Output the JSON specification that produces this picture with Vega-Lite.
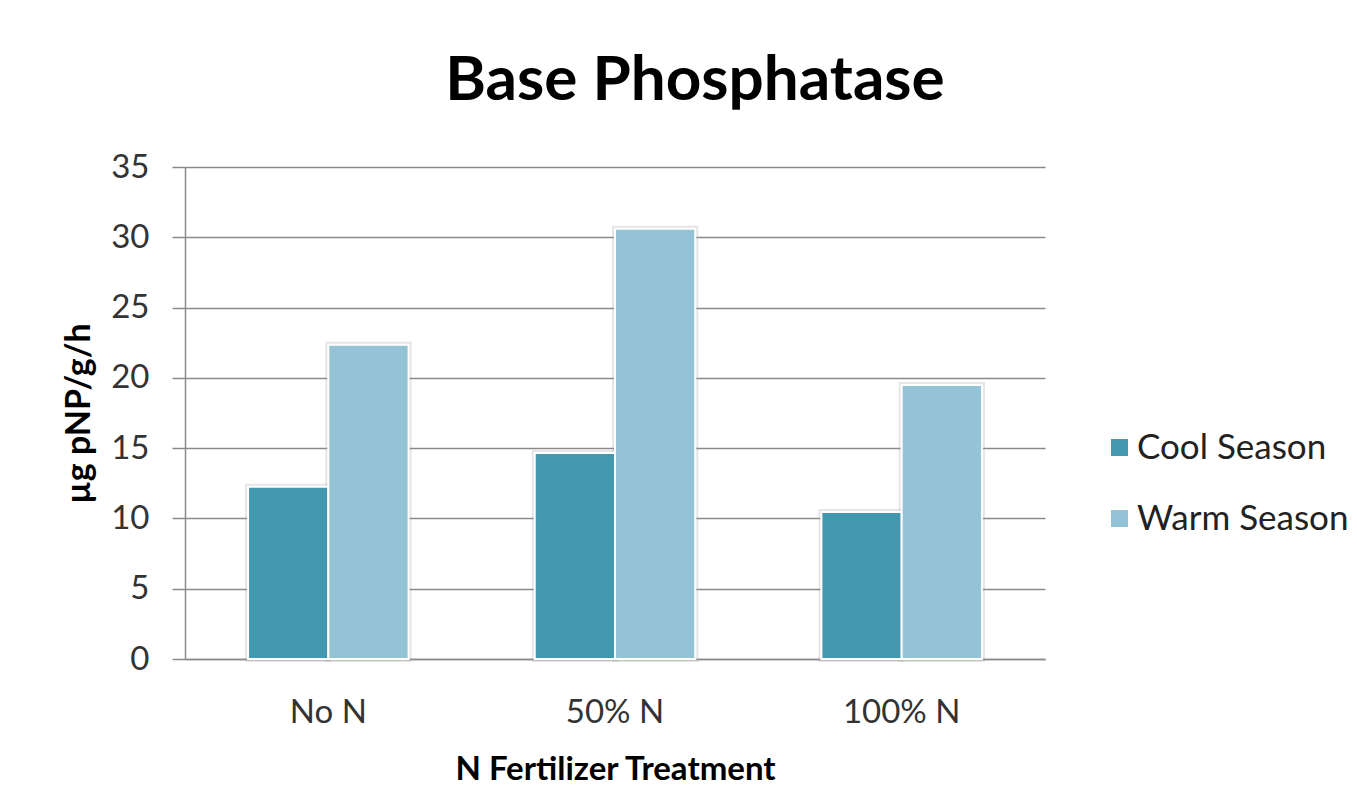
{
  "$schema": "https://vega.github.io/schema/vega-lite/v6.json",
  "width": 860,
  "height": 492,
  "autosize": {"type": "none"},
  "padding": {"left": 185, "top": 167, "right": 312, "bottom": 131},
  "background": "white",
  "title": {
    "text": "Base Phosphatase",
    "font": "Lato",
    "fontSize": 62,
    "fontWeight": "bold",
    "color": "#000000",
    "anchor": "middle",
    "frame": "group",
    "dx": 80,
    "offset": 38
  },
  "data": {
    "values": [
      {"treatment": "No N", "season": "Cool Season", "value": 12.25},
      {"treatment": "No N", "season": "Warm Season", "value": 22.35},
      {"treatment": "50% N", "season": "Cool Season", "value": 14.65},
      {"treatment": "50% N", "season": "Warm Season", "value": 30.6},
      {"treatment": "100% N", "season": "Cool Season", "value": 10.45},
      {"treatment": "100% N", "season": "Warm Season", "value": 19.5}
    ]
  },
  "config": {
    "view": {"stroke": null},
    "font": "Lato"
  },
  "encoding": {
    "x": {
      "field": "treatment",
      "type": "nominal",
      "sort": ["No N", "50% N", "100% N"],
      "scale": {"paddingInner": 0.44, "paddingOuter": 0.22},
      "axis": {
        "title": "N Fertilizer Treatment",
        "titleFont": "Lato",
        "titleFontSize": 33,
        "titleFontWeight": "bold",
        "titleColor": "#000000",
        "titlePadding": 24,
        "labelAngle": 0,
        "labelFont": "Lato",
        "labelFontSize": 33,
        "labelColor": "#333333",
        "labelPadding": 37,
        "ticks": false,
        "domain": true,
        "domainColor": "#8a8a8a",
        "domainWidth": 1.5
      }
    },
    "xOffset": {"field": "season", "type": "nominal", "sort": ["Cool Season", "Warm Season"]},
    "y": {
      "field": "value",
      "type": "quantitative",
      "scale": {"domain": [0, 35]},
      "axis": {
        "title": "µg pNP/g/h",
        "titleFont": "Lato",
        "titleFontSize": 34,
        "titleFontWeight": "bold",
        "titleColor": "#000000",
        "titlePadding": 14,
        "values": [0, 5, 10, 15, 20, 25, 30, 35],
        "labelFont": "Lato",
        "labelFontSize": 33,
        "labelColor": "#333333",
        "labelPadding": 23,
        "tickSize": 13,
        "tickColor": "#8a8a8a",
        "tickWidth": 1.5,
        "domain": true,
        "domainColor": "#8a8a8a",
        "domainWidth": 1.5,
        "grid": true,
        "gridColor": "#8a8a8a",
        "gridWidth": 1.5
      }
    },
    "color": {
      "field": "season",
      "type": "nominal",
      "sort": ["Cool Season", "Warm Season"],
      "scale": {"domain": ["Cool Season", "Warm Season"], "range": ["#4397AF", "#93C3D4"]},
      "legend": {
        "title": null,
        "orient": "none",
        "legendX": 917,
        "legendY": 263,
        "symbolType": "square",
        "symbolSize": 289,
        "symbolStrokeWidth": 0,
        "labelFont": "Lato",
        "labelFontSize": 35,
        "labelColor": "#222222",
        "labelLimit": 500,
        "rowPadding": 35,
        "labelOffset": 0
      }
    }
  },
  "layer": [
    {"mark": {"type": "bar", "stroke": "#9a9a9a", "strokeWidth": 6, "strokeOpacity": 0.25}},
    {"mark": {"type": "bar", "stroke": "white", "strokeWidth": 2}}
  ]
}
